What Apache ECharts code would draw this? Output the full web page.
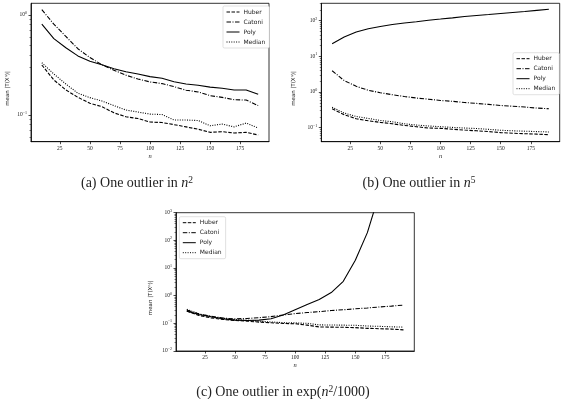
<!DOCTYPE html>
<html>
<head>
<meta charset="utf-8">
<script src="https://cdn.jsdelivr.net/npm/echarts@6/dist/echarts.min.js"></script>
<style>
  html, body { margin: 0; padding: 0; background: #fff; }
  #chart { width: 564px; height: 399px; }
</style>
</head>
<body>
<div id="chart"></div>
<script>
// sample sizes n
const nVals = [10, 20, 30, 40, 50, 60, 70, 80, 90, 100, 110, 120, 130, 140, 150, 160, 170, 180, 190];
const xTicks = [25, 50, 75, 100, 125, 150, 175];
const names = ['Huber', 'Catoni', 'Poly', 'Median'];

// (a) one outlier in n^2
const huberA  = [0.316, 0.224, 0.178, 0.150, 0.131, 0.121, 0.105, 0.096, 0.092, 0.085, 0.084, 0.080, 0.076, 0.072, 0.067, 0.068, 0.066, 0.067, 0.063];
const catoniA = [1.13, 0.81, 0.61, 0.46, 0.375, 0.318, 0.28, 0.25, 0.229, 0.214, 0.206, 0.192, 0.177, 0.170, 0.156, 0.150, 0.142, 0.141, 0.124];
const polyA   = [0.81, 0.58, 0.47, 0.39, 0.345, 0.318, 0.29, 0.271, 0.257, 0.242, 0.233, 0.215, 0.204, 0.198, 0.190, 0.185, 0.178, 0.178, 0.161];
const medianA = [0.333, 0.257, 0.204, 0.165, 0.149, 0.138, 0.124, 0.112, 0.107, 0.102, 0.101, 0.089, 0.089, 0.088, 0.078, 0.081, 0.076, 0.083, 0.074];
const yTicksA = [0.1, 1];

// (b) one outlier in n^5
const huberB  = [0.34, 0.231, 0.179, 0.157, 0.141, 0.129, 0.116, 0.107, 0.098, 0.096, 0.091, 0.086, 0.082, 0.078, 0.073, 0.070, 0.068, 0.066, 0.064];
const catoniB = [3.95, 2.1, 1.45, 1.12, 0.96, 0.84, 0.75, 0.68, 0.63, 0.58, 0.55, 0.51, 0.48, 0.45, 0.42, 0.40, 0.38, 0.356, 0.34];
const polyB   = [22.5, 34.7, 48, 59.3, 68.8, 78.3, 85.7, 93, 103, 111, 120, 131, 140, 149, 159, 170, 181, 195, 210];
const medianB = [0.375, 0.258, 0.207, 0.182, 0.160, 0.147, 0.129, 0.119, 0.112, 0.107, 0.102, 0.098, 0.095, 0.090, 0.085, 0.082, 0.080, 0.078, 0.076];
const yTicksB = [0.1, 1, 10, 100];

// (c) one outlier in exp(n^2/1000)
const huberC  = [0.28, 0.193, 0.158, 0.138, 0.127, 0.120, 0.111, 0.105, 0.099, 0.097, 0.086, 0.074, 0.073, 0.072, 0.070, 0.066, 0.064, 0.062, 0.058];
const catoniC = [0.30, 0.22, 0.18, 0.155, 0.145, 0.15, 0.16, 0.175, 0.20, 0.225, 0.245, 0.265, 0.29, 0.31, 0.335, 0.36, 0.39, 0.42, 0.457];
const polyC   = [0.277, 0.21, 0.173, 0.147, 0.131, 0.127, 0.131, 0.147, 0.20, 0.31, 0.48, 0.73, 1.3, 3.3, 19, 190, 5000, 100000, 3000000];
const medianC = [0.32, 0.22, 0.175, 0.15, 0.138, 0.13, 0.12, 0.112, 0.106, 0.104, 0.10, 0.088, 0.087, 0.086, 0.085, 0.08, 0.078, 0.075, 0.073];
const yTicksC = [0.01, 0.1, 1, 10, 100, 1000];

const SERIF = 'Liberation Serif';
const SANS = 'DejaVu Sans';
const dashes = {
  Huber: [3.5, 1.5],
  Catoni: [4.5, 1.5, 1, 1.5],
  Poly: 'solid',
  Median: [1, 1.4]
};

// minor ticks 2..9 of every decade inside [lo, hi]
function minorTicks(lo, hi) {
  const out = [];
  for (let e = Math.floor(Math.log10(lo)); e <= Math.ceil(Math.log10(hi)); e++) {
    for (let k = 2; k <= 9; k++) {
      const v = k * Math.pow(10, e);
      if (v >= lo && v <= hi) out.push(v);
    }
  }
  return out;
}

function sup(v) {
  const e = Math.round(Math.log10(v));
  return '10{s|' + (e < 0 ? '\u2212' + (-e) : e) + '}';
}

const panels = [
  { grid: { left: 31, top: 3.3, width: 238, height: 138.4 }, ymin: 0.054, ymax: 1.31, ticks: yTicksA, nameGap: 20,
    data: [huberA, catoniA, polyA, medianA], legend: { left: 223, top: 6 },
    caption: '(a) One outlier in {i|n}{s|2}', cx: 137, cy: 175 },
  { grid: { left: 321.3, top: 3.3, width: 238.4, height: 138.4 }, ymin: 0.0406, ymax: 307, ticks: yTicksB, nameGap: 25,
    data: [huberB, catoniB, polyB, medianB], legend: { left: 513, top: 52.7 },
    caption: '(b) One outlier in {i|n}{s|5}', cx: 419, cy: 175 },
  { grid: { left: 176, top: 212.7, width: 238.3, height: 138.3 }, ymin: 0.01, ymax: 1000, ticks: yTicksC, nameGap: 22,
    data: [huberC, catoniC, polyC, medianC], legend: { left: 179.3, top: 216.7 },
    caption: '(c) One outlier in exp({i|n}{s|2}/1000)', cx: 283, cy: 384 }
];

let grids = [], xAxes = [], yAxes = [], series = [], legends = [], titles = [];
panels.forEach((p, i) => {
  grids.push(Object.assign({ show: true, borderColor: '#000', borderWidth: 0.8, backgroundColor: '#fff' }, p.grid));
  xAxes.push({
    type: 'value', gridIndex: i, min: 1, max: 199,
    name: 'n', nameLocation: 'middle', nameGap: 11,
    nameTextStyle: { fontFamily: SERIF, fontStyle: 'italic', fontSize: 6.5, color: '#222' },
    axisLine: { show: true, lineStyle: { color: '#000', width: 0.8 } },
    axisTick: { show: true, length: 2.5, lineStyle: { color: '#000', width: 0.7 }, customValues: xTicks },
    axisLabel: { fontFamily: SERIF, fontSize: 5.5, color: '#222', margin: 4, customValues: xTicks },
    splitLine: { show: false }
  });
  // major ticks + labels
  yAxes.push({
    type: 'log', gridIndex: i, position: 'left', min: p.ymin, max: p.ymax,
    name: 'mean |T(X\u207F)|', nameLocation: 'middle', nameGap: p.nameGap,
    nameTextStyle: { fontFamily: SANS, fontSize: 5.5, color: '#222', padding: [0, 32, 0, 0] },
    axisLine: { show: true, lineStyle: { color: '#000', width: 0.8 } },
    axisTick: { show: true, length: 2.5, lineStyle: { color: '#000', width: 0.7 }, customValues: p.ticks },
    axisLabel: {
      fontFamily: SERIF, fontSize: 5.5, color: '#222', margin: 4, customValues: p.ticks,
      formatter: sup,
      rich: { s: { fontFamily: SERIF, fontSize: 4, color: '#222', padding: [0, 0, 4, 0] } }
    },
    splitLine: { show: false }
  });
  // minor ticks only, same side as the major axis
  yAxes.push({
    type: 'log', gridIndex: i, position: 'left', offset: 0, min: p.ymin, max: p.ymax,
    axisLine: { show: false },
    axisTick: { show: true, length: 1.5, lineStyle: { color: '#000', width: 0.5 }, customValues: minorTicks(p.ymin, p.ymax) },
    axisLabel: { show: false },
    splitLine: { show: false }
  });
  names.forEach((nm, k) => {
    series.push({
      name: nm, type: 'line', xAxisIndex: i, yAxisIndex: i * 2,
      symbol: 'none', clip: true,
      lineStyle: { color: '#000', width: 1.1, type: dashes[nm] },
      itemStyle: { color: '#000' },
      data: nVals.map((n, j) => [n, p.data[k][j]])
    });
  });
  legends.push({
    data: names, orient: 'vertical', left: p.legend.left, top: p.legend.top,
    itemWidth: 13, itemHeight: 5, itemGap: 4, padding: [3, 4, 3, 3],
    backgroundColor: '#fff', borderColor: '#ccc', borderWidth: 0.6, borderRadius: 1.5,
    selectedMode: false, itemStyle: { opacity: 0 }, lineStyle: { width: 1 },
    textStyle: { fontFamily: SANS, fontSize: 6, color: '#222', padding: [0, 0, 0, -1] }
  });
  titles.push({
    text: p.caption, left: p.cx, top: p.cy, textAlign: 'center', padding: 0,
    textStyle: {
      fontFamily: SERIF, fontSize: 14, fontWeight: 'normal', color: '#222',
      rich: {
        i: { fontFamily: SERIF, fontStyle: 'italic', fontSize: 14, color: '#222' },
        s: { fontFamily: SERIF, fontSize: 9.5, color: '#222', padding: [0, 0, 6, 0] }
      }
    }
  });
});

let chart = echarts.init(document.getElementById('chart'), null, { renderer: 'canvas' });
chart.setOption({
  animation: false,
  title: titles,
  legend: legends,
  grid: grids,
  xAxis: xAxes,
  yAxis: yAxes,
  series: series
});
</script>
</body>
</html>
